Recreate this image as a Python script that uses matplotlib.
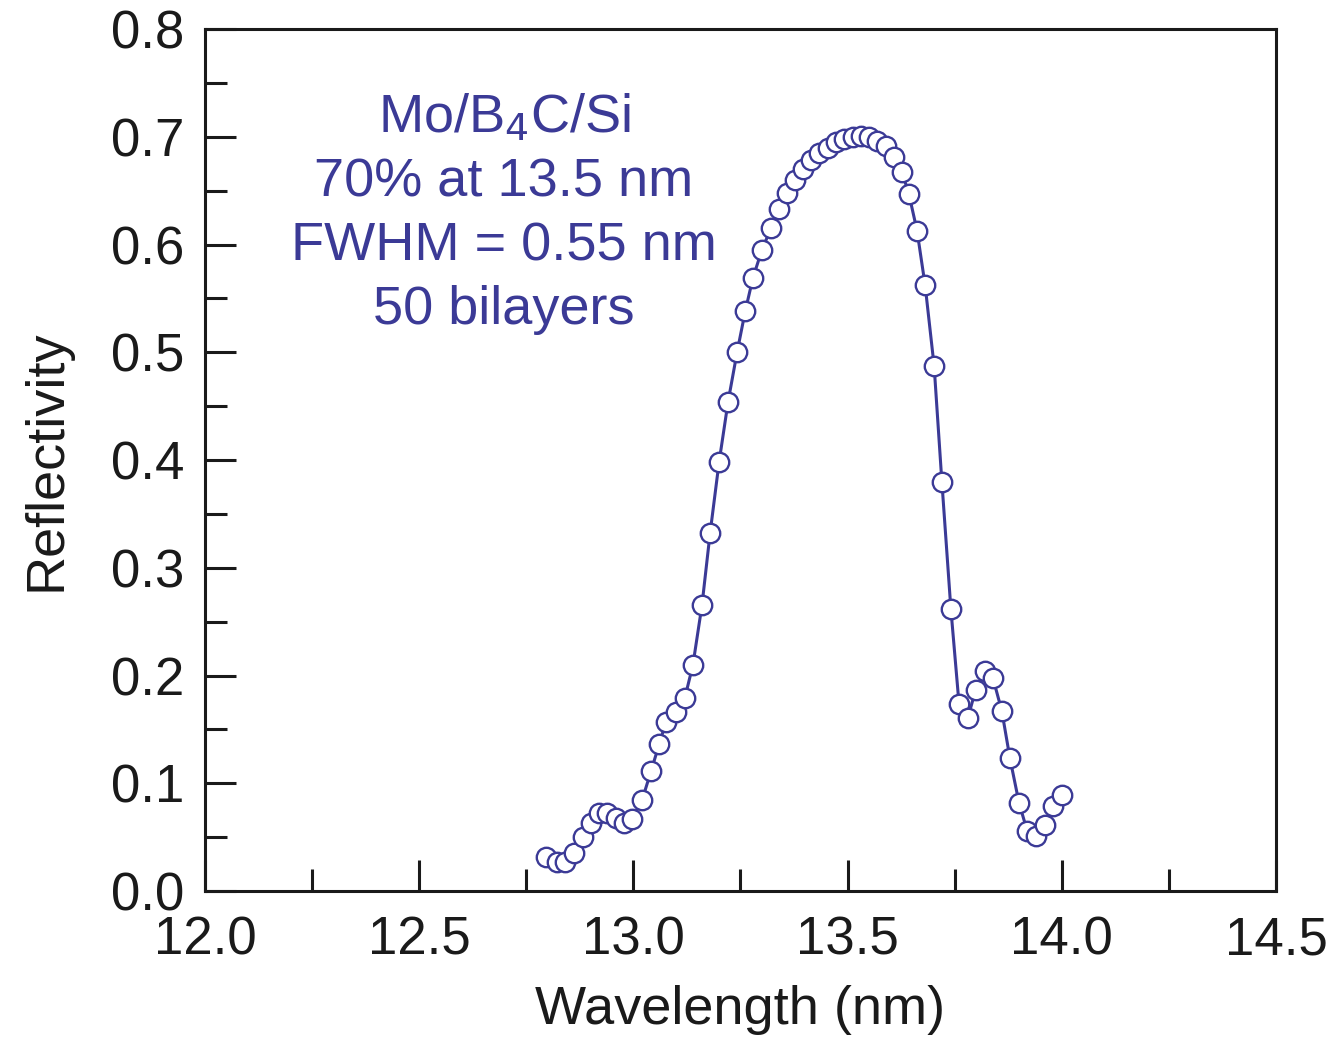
import matplotlib
matplotlib.use("Agg")
import matplotlib.pyplot as plt
from matplotlib.ticker import MultipleLocator

plt.rcParams['font.family'] = ['Liberation Sans', 'DejaVu Sans']

wavelength = [12.796, 12.822, 12.840, 12.861, 12.882, 12.901, 12.920, 12.938, 12.959, 12.978,
              12.997, 13.020, 13.041, 13.060, 13.076, 13.099, 13.120, 13.139, 13.160, 13.179,
              13.200, 13.221, 13.242, 13.261, 13.279, 13.300, 13.321, 13.340, 13.359, 13.377,
              13.396, 13.415, 13.433, 13.454, 13.473, 13.492, 13.513, 13.531, 13.550, 13.569,
              13.590, 13.608, 13.627, 13.643, 13.662, 13.681, 13.702, 13.720, 13.741, 13.760,
              13.781, 13.799, 13.821, 13.839, 13.860, 13.879, 13.900, 13.919, 13.940, 13.961,
              13.979, 14.000]
reflectivity = [0.032, 0.027, 0.027, 0.035, 0.050, 0.063, 0.072, 0.072, 0.068, 0.063,
                0.067, 0.084, 0.111, 0.136, 0.157, 0.166, 0.179, 0.210, 0.265, 0.332,
                0.398, 0.454, 0.500, 0.538, 0.569, 0.595, 0.615, 0.633, 0.648, 0.660,
                0.670, 0.678, 0.685, 0.690, 0.695, 0.698, 0.700, 0.701, 0.700, 0.696,
                0.691, 0.681, 0.667, 0.647, 0.613, 0.562, 0.487, 0.380, 0.262, 0.174,
                0.161, 0.187, 0.204, 0.198, 0.167, 0.123, 0.082, 0.056, 0.051, 0.061,
                0.079, 0.089]

note = "Mo/B$_4$C/Si\n70% at 13.5 nm\nFWHM = 0.55 nm\n50 bilayers"
blue = '#3b3a96'

fig = plt.figure(figsize=(13.37, 10.41), dpi=100)
ax = fig.add_axes([0.1533, 0.1441, 0.8011, 0.828])

ax.plot(wavelength, reflectivity, color=blue, linewidth=2.2,
        marker='o', markersize=14, markerfacecolor='white',
        markeredgecolor=blue, markeredgewidth=1.7)

ax.text(12.698, 0.629, note, color=blue, fontsize=39, ha='center', va='center',
        linespacing=1.36)

ax.set_xlim(12.0, 14.5)
ax.set_ylim(0.0, 0.8)
ax.xaxis.set_major_locator(MultipleLocator(0.5))
ax.xaxis.set_minor_locator(MultipleLocator(0.25))
ax.yaxis.set_major_locator(MultipleLocator(0.1))
ax.yaxis.set_minor_locator(MultipleLocator(0.05))
ax.xaxis.set_major_formatter(lambda v, p: f"{v:.1f}")
ax.yaxis.set_major_formatter(lambda v, p: f"{v:.1f}")

ax.tick_params(which='both', direction='in', top=False, right=False,
               width=2.2, labelsize=38, colors='#1a1a1a')
ax.tick_params(which='major', length=22)
ax.tick_params(which='minor', length=16)
ax.tick_params(axis='x', which='major', pad=18)
ax.tick_params(axis='y', which='major', pad=15)
for s in ax.spines.values():
    s.set_linewidth(2.2)
    s.set_color('#1a1a1a')

ax.set_xlabel("Wavelength (nm)", fontsize=39, color='#1a1a1a', labelpad=14)
ax.set_ylabel("Reflectivity", fontsize=39, color='#1a1a1a', labelpad=28)

fig.savefig("out.png", dpi=100)
